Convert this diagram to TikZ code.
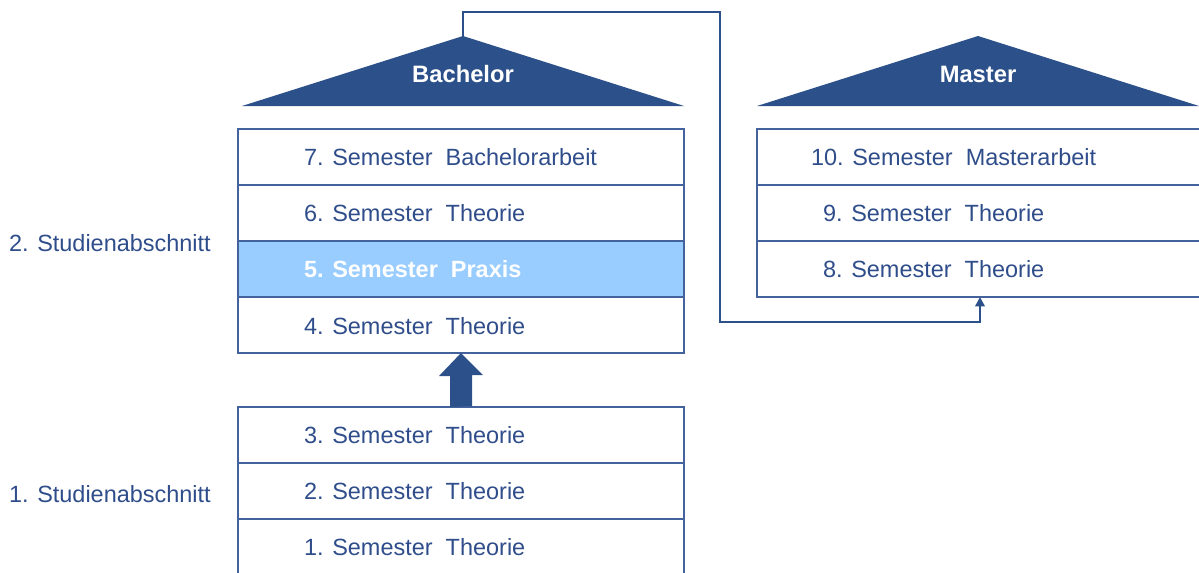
\documentclass[tikz,border=0pt]{standalone}
\usepackage{fontspec}
\setmainfont{Liberation Sans}
\usetikzlibrary{arrows.meta}
\definecolor{dkblue}{HTML}{2C5089}
\definecolor{txtblue}{HTML}{2F4D8A}
\definecolor{lineblue}{HTML}{44629C}
\definecolor{hilite}{HTML}{99CCFF}
\tikzset{
  every node/.style={inner sep=0pt, outer sep=0pt},
  row/.style={draw=lineblue, line width=1.1pt, minimum width=446*0.75pt,
    minimum height=56*0.75pt, anchor=north west},
  hirow/.style={row, fill=hilite},
  rowtext/.style={anchor=base west, text=txtblue, font=\fontsize{17.6}{20}\selectfont},
  hitext/.style={anchor=base west, text=white, font=\fontsize{17.6}{20}\selectfont\bfseries},
  headtext/.style={anchor=base, text=white, font=\fontsize{17.8}{20}\selectfont\bfseries},
  roof/.style={fill=dkblue},
  link/.style={draw=dkblue, line width=2.1pt, -{Triangle[width=7pt,length=7pt]}},
  bigarrow/.style={fill=dkblue}
}
\begin{document}
\begin{tikzpicture}[x=0.75pt,y=-0.75pt]
\useasboundingbox (0,0) rectangle (1199,572);
\clip (0,0) rectangle (1199,572);

% roofs
\coordinate (bapex) at (463,36);
\coordinate (mapex) at (978,36);
\fill[roof] (242,106) -- (bapex) -- (684,106) -- cycle;
\fill[roof] (757,106) -- (mapex) -- (1199,106) -- cycle;
\node[headtext] (bach) at (463,82) {Bachelor};
\node[headtext] (mast) at (978,82) {Master};

% bachelor upper block
\node[row] (b7) at (238,129) {};
\node[row] (b6) at (238,185) {};
\node[hirow] (b5) at (238,241) {};
\node[row] (b4) at (238,297) {};
\node[rowtext] (t7) at (304,165.5) {7. Semester\ \ Bachelorarbeit};
\node[rowtext] (t6) at (304,221.5) {6. Semester\ \ Theorie};
\node[hitext] (t5) at (304,277.5) {5. Semester\ \ Praxis};
\node[rowtext] (t4) at (304,334.5) {4. Semester\ \ Theorie};

% bachelor lower block
\node[row] (b3) at (238,407) {};
\node[row] (b2) at (238,463) {};
\node[row] (b1) at (238,519) {};
\node[rowtext] (t3) at (304,443.5) {3. Semester\ \ Theorie};
\node[rowtext] (t2) at (304,499.5) {2. Semester\ \ Theorie};
\node[rowtext] (t1) at (304,555.5) {1. Semester\ \ Theorie};

% master block
\node[row] (m10) at (757,129) {};
\node[row] (m9) at (757,185) {};
\node[row] (m8) at (757,241) {};
\node[rowtext] (t10) at (811,165.5) {10. Semester\ \ Masterarbeit};
\node[rowtext] (t9) at (823,221.5) {9. Semester\ \ Theorie};
\node[rowtext] (t8) at (823,277.5) {8. Semester\ \ Theorie};

% section labels
\node[rowtext] (s2) at (9,251) {2. Studienabschnitt};
\node[rowtext] (s1) at (9,502) {1. Studienabschnitt};

% block arrow
\fill[bigarrow] (b3.north) ++(-11,0) -- ++(0,-31) -- ++(-11,0) -- (b4.south) -- ++(22,22) -- ++(-11,0) -- ++(0,31) -- cycle;

% connector
\draw[link] (bapex) |- (720,12) -- (720,322) -| (m8.south);
\end{tikzpicture}
\end{document}
